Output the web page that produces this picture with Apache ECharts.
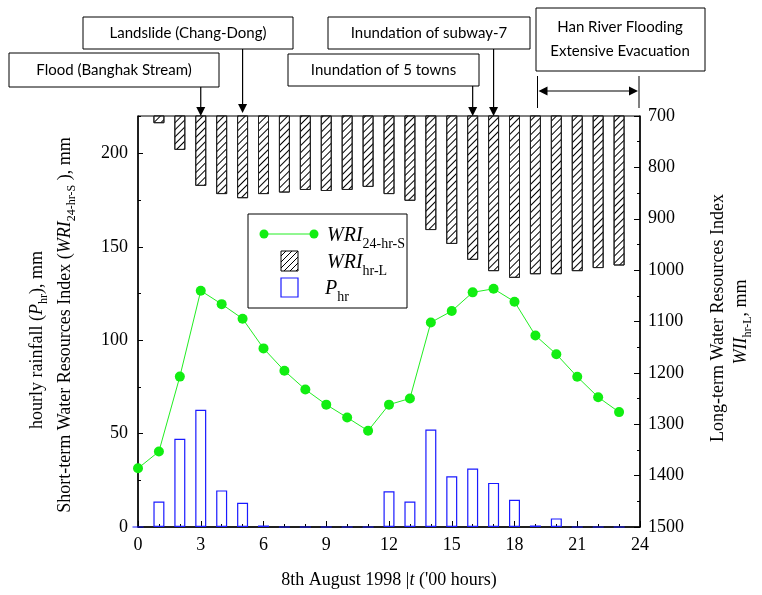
<!DOCTYPE html>
<html><head><meta charset="utf-8">
<script src="https://cdn.jsdelivr.net/npm/echarts@6/dist/echarts.min.js"></script>
<style>html,body{margin:0;padding:0;background:#fff}#c{width:762px;height:595px}</style>
</head><body><div id="c"></div>
<script>
// ---------- data ----------
const hours = [0,1,2,3,4,5,6,7,8,9,10,11,12,13,14,15,16,17,18,19,20,21,22,23];
const wriShort = [31.4,40.4,80.5,126.5,119.3,111.5,95.6,83.6,73.6,65.5,58.6,51.5,65.5,68.8,109.5,115.6,125.6,127.5,120.6,102.5,92.5,80.4,69.5,61.5];
const wriLong = [null,714,766,836,852,860,852,849,844,846,844,838,852,865,922,949,980,1002,1015,1008,1008,1002,996,991];
const rainfall = [0,13.6,47.2,62.7,19.6,13.0,0.8,0,0,0,0,0,19.1,13.6,52.2,27.2,31.3,23.6,14.6,0.8,4.6,0,0,0];
const xTicks = {min:0, max:24, interval:3};
const leftTicks = {min:0, max:220, interval:50};
const rightTicks = {min:700, max:1500, interval:100};
const events = [
  {label:'Flood (Banghak Stream)', hour:3},
  {label:'Landslide (Chang-Dong)', hour:5},
  {label:'Inundation of 5 towns', hour:16},
  {label:'Inundation of subway-7', hour:17}
];
const hanRange = {label1:'Han River Flooding', label2:'Extensive Evacuation', from:19.1, to:24};

// ---------- chart ----------
const SERIF = 'Liberation Serif';
const SANS = 'Lato';
const chart = echarts.init(document.getElementById('c'), null, {renderer:'canvas'});
const pair = arr => hours.map((h,i)=>[h, arr[i]]);
const lbl = {color:'#000', fontFamily:SERIF, fontSize:18, formatter:v => String(v)};

const option = {
  animation:false,
  backgroundColor:'#fff',
  grid:{left:138, top:116, width:502, height:411, show:true, borderColor:'#000', borderWidth:1, backgroundColor:'transparent'},
  xAxis:{type:'value', min:xTicks.min, max:xTicks.max, interval:xTicks.interval,
    axisLine:{lineStyle:{color:'#000', width:1.5}},
    axisTick:{inside:true, length:6, lineStyle:{color:'#000'}},
    minorTick:{show:true, splitNumber:3, length:3, lineStyle:{color:'#000'}},
    splitLine:{show:false},
    axisLabel:Object.assign({margin:9}, lbl)},
  yAxis:[
    {type:'value', position:'left', min:leftTicks.min, max:leftTicks.max, interval:leftTicks.interval,
      axisLine:{show:true, lineStyle:{color:'#000', width:1.5}},
      axisTick:{inside:true, length:5, lineStyle:{color:'#000'}},
      splitLine:{show:false},
      axisLabel:Object.assign({margin:10, showMaxLabel:false}, lbl)},
    {type:'value', position:'right', inverse:true, min:rightTicks.min, max:rightTicks.max, interval:rightTicks.interval,
      axisLine:{show:true, lineStyle:{color:'#000', width:1.5}},
      axisTick:{inside:true, length:6, lineStyle:{color:'#000'}},
      minorTick:{show:true, splitNumber:2, length:3, lineStyle:{color:'#000'}},
      splitLine:{show:false},
      axisLabel:Object.assign({margin:8}, lbl)},
    {type:'value', position:'left', min:leftTicks.min, max:leftTicks.max, interval:leftTicks.interval/2,
      axisLine:{show:false}, axisLabel:{show:false}, splitLine:{show:false},
      axisTick:{inside:true, length:3, lineStyle:{color:'#000'}}}
  ],
  series:[
    {type:'bar', name:'WRI hr-L', yAxisIndex:1, data:pair(wriLong), barWidth:11, barGap:'-100%',
      itemStyle:{color:'#fff', borderColor:'#222', borderWidth:1,
        decal:{symbol:'rect', symbolSize:1, color:'#000', dashArrayX:[1,0], dashArrayY:[1,4], rotation:-Math.PI/4}}},
    {type:'bar', name:'P hr', yAxisIndex:0, data:pair(rainfall), barWidth:11, barGap:'-100%',
      itemStyle:{color:'rgba(255,255,255,0)', borderColor:'#1a1aff', borderWidth:1.2}},
    {type:'line', name:'WRI 24-hr-S', yAxisIndex:0, data:pair(wriShort), symbol:'circle', symbolSize:10,
      lineStyle:{color:'#22ee22', width:1}, itemStyle:{color:'#11ee11'}, z:5}
  ]
};
chart.setOption(option);

// ---------- annotations / titles ----------
function rt(x, y, text, rich, opts) {
  return Object.assign({type:'text', x:x, y:y, z:100,
    style:{text:text, rich:rich, align:'center', verticalAlign:'middle', textAlign:'center', textVerticalAlign:'middle'}}, opts||{});
}
function lt(x, y, text, rich) {
  return {type:'text', x:x, y:y, z:100,
    style:{text:text, rich:rich, align:'left', verticalAlign:'middle', textAlign:'left', textVerticalAlign:'middle'}};
}
const axRich = {
  n:{fontFamily:SERIF, fontSize:18, fill:'#000', color:'#000'},
  i:{fontFamily:SERIF, fontSize:18, fontStyle:'italic', fill:'#000', color:'#000'},
  s:{fontFamily:SERIF, fontSize:12, fill:'#000', color:'#000', padding:[13,0,0,0]}
};
const lgRich = {
  i:{fontFamily:SERIF, fontSize:20, fontStyle:'italic', fill:'#000', color:'#000'},
  s:{fontFamily:SERIF, fontSize:14, fill:'#000', color:'#000', padding:[16,0,0,0]}
};
const g = [];
// axis titles
g.push(rt(37, 340, '{n|hourly rainfall (}{i|P}{s|hr}{n|), mm}', axRich, {rotation:Math.PI/2}));
g.push(rt(65, 325, '{n|Short-term Water Resources Index (}{i|WRI}{s|24-hr-S}{n| ), mm}', axRich, {rotation:Math.PI/2}));
g.push(rt(718, 318, '{n|Long-term Water Resources Index}', axRich, {rotation:Math.PI/2}));
g.push(rt(741, 322, '{i|WII}{s|hr-L}{n|, mm}', axRich, {rotation:Math.PI/2}));
g.push(rt(389, 580, "{n|8th August 1998 |}{i|t}{n| ('00 hours)}", axRich));

// legend
g.push({type:'rect', shape:{x:248, y:214, width:159, height:94}, style:{fill:'#fff', stroke:'#000', lineWidth:1}, z:90});
g.push({type:'line', shape:{x1:264, y1:234, x2:314, y2:234}, style:{stroke:'#22ee22', lineWidth:1}, z:95});
g.push({type:'circle', shape:{cx:264, cy:234, r:4.5}, style:{fill:'#11ee11'}, z:96});
g.push({type:'circle', shape:{cx:314, cy:234, r:4.5}, style:{fill:'#11ee11'}, z:96});
const hb = {x:281, y:251, w:17, h:20};
g.push({type:'rect', shape:{x:hb.x, y:hb.y, width:hb.w, height:hb.h}, style:{fill:'#fff', stroke:'#000', lineWidth:1}, z:95});
for (let c = 5; c < hb.w + hb.h; c += 6) {
  // "/" strokes: x + y = const in screen coordinates
  const u1 = Math.max(0, c - hb.h), u2 = Math.min(hb.w, c);
  g.push({type:'line', z:96, shape:{x1:hb.x+u1, y1:hb.y+(c-u1), x2:hb.x+u2, y2:hb.y+(c-u2)}, style:{stroke:'#000', lineWidth:1}});
}
g.push({type:'rect', shape:{x:281, y:278, width:17, height:19}, style:{fill:'#fff', stroke:'#1a1aff', lineWidth:1.2}, z:95});
g.push(lt(327, 236, '{i|WRI}{s|24-hr-S}', lgRich));
g.push(lt(327, 263, '{i|WRI}{s|hr-L}', lgRich));
g.push(lt(325, 289, '{i|P}{s|hr}', lgRich));

// event boxes
const plotTop = chart.convertToPixel({yAxisIndex:1}, rightTicks.min);
const boxes = [
  {x:9, y:53, w:210, h:34},
  {x:83, y:17, w:210, h:32},
  {x:288, y:54, w:191, h:32},
  {x:328, y:17, w:202, h:32}
];
function arrowDown(x, y1, y2) {
  g.push({type:'line', z:100, shape:{x1:x, y1:y1, x2:x, y2:y2-7}, style:{stroke:'#000', lineWidth:1.2}});
  g.push({type:'polygon', z:100, shape:{points:[[x-4.5,y2-9],[x+4.5,y2-9],[x,y2]]}, style:{fill:'#000'}});
}
events.forEach((e,i)=>{
  const b = boxes[i];
  g.push({type:'rect', z:100, shape:{x:b.x, y:b.y, width:b.w, height:b.h}, style:{fill:'#fff', stroke:'#000', lineWidth:1}});
  g.push({type:'text', z:101, x:b.x+b.w/2, y:b.y+b.h/2, style:{text:e.label, fill:'#000', font:'15px '+SANS, align:'center', verticalAlign:'middle', textAlign:'center', textVerticalAlign:'middle'}});
  arrowDown(chart.convertToPixel({xAxisIndex:0}, e.hour), b.y+b.h, plotTop - (i===1 ? 3 : 0));
});
// Han river box and range arrow
g.push({type:'rect', z:100, shape:{x:536, y:8, width:169, height:63}, style:{fill:'#fff', stroke:'#000', lineWidth:1}});
g.push({type:'text', z:101, x:620, y:27, style:{text:hanRange.label1, fill:'#000', font:'15px '+SANS, align:'center', verticalAlign:'middle', textAlign:'center', textVerticalAlign:'middle'}});
g.push({type:'text', z:101, x:620, y:51, style:{text:hanRange.label2, fill:'#000', font:'15px '+SANS, align:'center', verticalAlign:'middle', textAlign:'center', textVerticalAlign:'middle'}});
const hx1 = chart.convertToPixel({xAxisIndex:0}, hanRange.from);
const hx2 = chart.convertToPixel({xAxisIndex:0}, hanRange.to) - 1;
g.push({type:'line', z:100, shape:{x1:hx1, y1:76, x2:hx1, y2:108}, style:{stroke:'#000', lineWidth:1}});
g.push({type:'line', z:100, shape:{x1:hx2, y1:76, x2:hx2, y2:108}, style:{stroke:'#000', lineWidth:1}});
g.push({type:'line', z:100, shape:{x1:hx1+6, y1:91, x2:hx2-6, y2:91}, style:{stroke:'#000', lineWidth:1.2}});
g.push({type:'polygon', z:100, shape:{points:[[hx1+1,91],[hx1+10,86.5],[hx1+10,95.5]]}, style:{fill:'#000'}});
g.push({type:'polygon', z:100, shape:{points:[[hx2-1,91],[hx2-10,86.5],[hx2-10,95.5]]}, style:{fill:'#000'}});

chart.setOption({graphic:g});
</script></body></html>
